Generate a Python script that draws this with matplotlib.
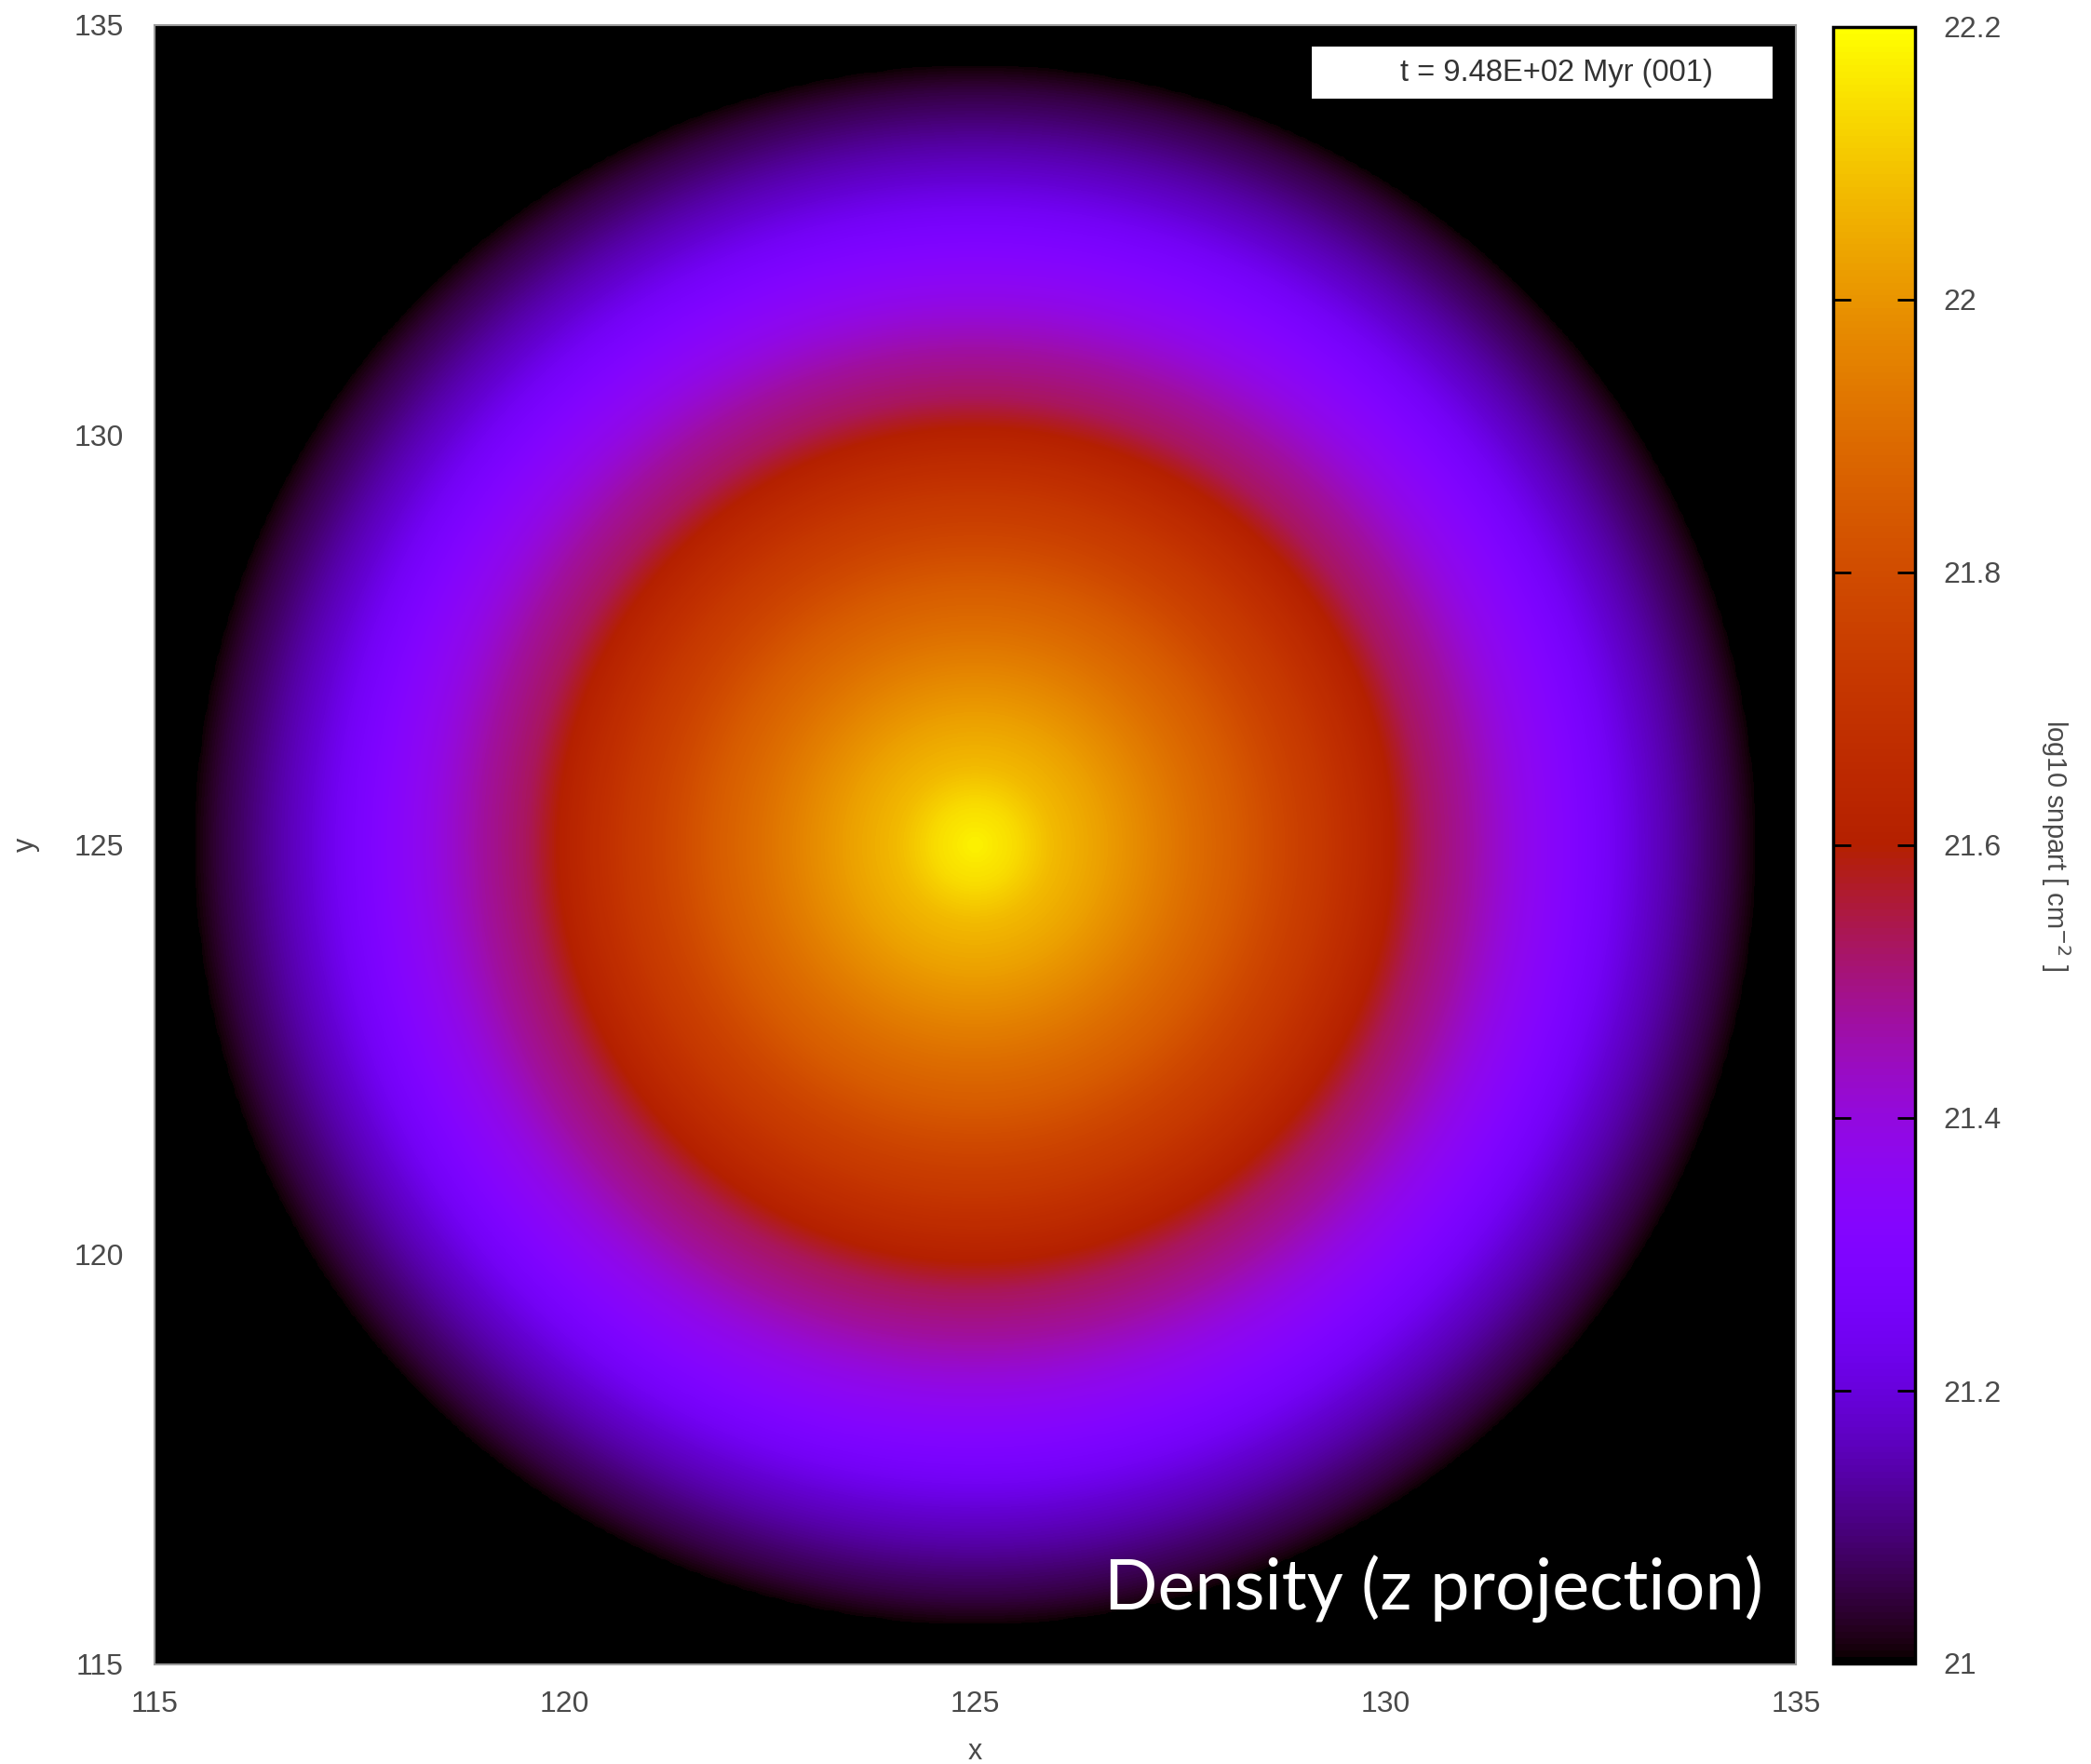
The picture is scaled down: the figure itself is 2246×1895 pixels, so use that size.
import numpy as np
import matplotlib
matplotlib.use("Agg")
import matplotlib.pyplot as plt
from matplotlib.patches import Rectangle

# Radial profile (radius from centre, log10 column density)
radius = [0.0, 0.5, 0.93, 1.5, 2.06, 2.6, 3.19, 3.8, 4.33, 4.7, 5.0, 5.25, 5.46,
          6.03, 6.6, 7.2, 7.73, 8.1, 8.5, 8.87, 9.2, 9.4, 9.55, 9.7, 12.0, 15.0]
logdens = [22.18, 22.14, 22.08, 22.03, 21.97, 21.91, 21.85, 21.77, 21.71, 21.66,
           21.615, 21.57, 21.53, 21.47, 21.39, 21.32, 21.25, 21.19, 21.14, 21.09,
           21.05, 21.02, 21.0, 20.9, 20.9, 20.9]
centre = [125.0, 125.0]
xticks = [115, 120, 125, 130, 135]
yticks = [115, 120, 125, 130, 135]
cticks = [21, 21.2, 21.4, 21.6, 21.8, 22, 22.2]
ctick_labels = ["21", "21.2", "21.4", "21.6", "21.8", "22", "22.2"]
time_label = "t = 9.48E+02 Myr (001)"
title_text = "Density (z projection)"
cbar_label = "log10 snpart [ cm$^{-2}$ ]"

W, H = 2246, 1895
fig = plt.figure(figsize=(W / 100, H / 100), dpi=100)
plt.rcParams['font.family'] = ['Liberation Sans', 'DejaVu Sans']
grey = '#4a4a4a'

ax = fig.add_axes([166 / W, 1 - 1788 / H, (1929 - 166) / W, (1788 - 27) / H])
n = 256
edges = np.linspace(115, 135, n + 1)
cen = 0.5 * (edges[:-1] + edges[1:])
X, Y = np.meshgrid(cen, cen)
R = np.hypot(X - centre[0], Y - centre[1])
Z = np.interp(R, radius, logdens)
im = ax.imshow(Z, origin='lower', extent=[115, 135, 115, 135], cmap='gnuplot',
               vmin=21, vmax=22.2, interpolation='bilinear', aspect='auto')
ax.set_xlim(115, 135)
ax.set_ylim(115, 135)
ax.set_xticks(xticks)
ax.set_yticks(yticks)
ax.tick_params(length=0, labelsize=23, labelcolor=grey, pad=20)
ax.tick_params(axis='y', pad=24)
for s in ax.spines.values():
    s.set_color('#9a9a9a')
    s.set_linewidth(1.5)
ax.set_xlabel('x', fontsize=22, color=grey, labelpad=15)
ax.set_ylabel('y', fontsize=22, color=grey, labelpad=26)

ax.add_patch(Rectangle((0.7045, 0.9545), 0.9864 - 0.7045, 0.9875 - 0.9545,
                       transform=ax.transAxes, fc='white', ec='black', lw=1.5,
                       zorder=5))
ax.text(0.854, (0.9545 + 0.9875) / 2, time_label, transform=ax.transAxes,
        ha='center', va='center', fontsize=23.5, color='#333333', zorder=6)
ax.text(1 - (1929 - 1894) / 1763, (1788 - 1730) / 1761, title_text,
        transform=ax.transAxes, ha='right', va='baseline', fontsize=54.5,
        color='white', family=['Lato', 'DejaVu Sans'])

cax = fig.add_axes([1969 / W, 1 - 1787 / H, (2057 - 1969) / W, (1787 - 29) / H])
cb = fig.colorbar(im, cax=cax)
cb.set_ticks(cticks)
cb.set_ticklabels(ctick_labels)
cax.tick_params(axis='y', direction='in', length=14, width=2, color='black',
                left=True, right=True, labelsize=23, labelcolor=grey, pad=22)
cb.outline.set_linewidth(2.5)
cb.outline.set_edgecolor('black')
cb.set_label(cbar_label, rotation=270, fontsize=21, color=grey, labelpad=55)

fig.savefig('out.png', dpi=100, facecolor='white')
